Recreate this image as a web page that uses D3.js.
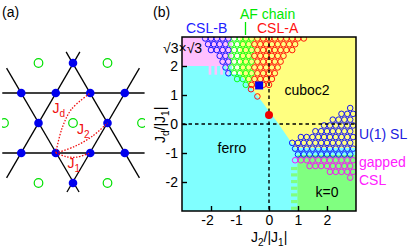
<!DOCTYPE html>
<html>
<head>
<meta charset="utf-8">
<script src="https://cdn.jsdelivr.net/npm/d3@7"></script>
<style>
  html, body { margin: 0; padding: 0; background: #fff; }
  svg { display: block; }
  text { font-family: "Liberation Sans", sans-serif; font-size: 14px; }
  .axis path { display: none; }
  .axis line { stroke: #000; stroke-width: 1.4; }
  .axis text { font-family: "Liberation Sans", sans-serif; font-size: 14px; fill: #000; }
</style>
</head>
<body>
<div id="chart"></div>
<script>
// panel (a): kagome lattice, lattice units
const blueSites = [[0, 2], [-3, 1], [-1, 1], [1, 1], [3, 1], [-2, 0], [2, 0], [-3, -1], [-1, -1], [1, -1], [3, -1], [0, -2]];
const greenSites = [[-2, 2], [2, 2], [-4, 0], [0, 0], [4, 0], [-2, -2], [2, -2]];
const bondLines = [
  [[-4.1, 1], [4.15, 1]],
  [[-4.1, -1], [4.15, -1]],
  [[-3.85, 1.83], [0.35, -2.3]],
  [[3.85, 1.83], [-0.35, -2.3]],
  [[-0.4, 2.37], [3.85, -1.83]],
  [[0.4, 2.37], [-3.85, -1.83]]
];
const j1Curve = [[-1, -1], [-0.4, -1.12], [0.2, -1.14], [1, -1]];
const j2Curve = [[-1, -1], [0.1, -0.78], [1.1, -0.45], [2, 0]];
const jdCurve = [[-1, -1], [-0.65, -0.2], [-0.1, 0.45], [1, 1]];

// panel (b): phase diagram regions in (J2, Jd)
const yellowRegion = [[-1, 3], [3, 3], [3, -0.83], [0.9, -0.83], [0.32, 0.02], [-0.37, 0.94], [-0.83, 1.52], [-1, 1.72]];
const pinkRegion = [[-3, 3], [-1.28, 3], [-1.28, 2], [-3, 2]];
const whiteRegion = [[-1.28, 3], [-1, 3], [-1, 1.72], [-1.28, 1.72]];
const greenRegion = [[0.98, -1.07], [3, -1.07], [3, -3], [0.98, -3]];
const pinkFingers = [-2.08, -1.88, -1.68, -1.48];
const greenFingers = [-1.48, -1.7, -1.93, -2.16, -2.39, -2.62, -2.85];

const cslBRows = [
  [2.95, [-2.2, -2.0, -1.8, -1.6, -1.4]],
  [2.75, [-2.1, -1.9, -1.7, -1.5]],
  [2.55, [-2.0, -1.8, -1.6, -1.4]],
  [2.35, [-1.7, -1.5]],
  [2.15, [-1.6, -1.4]],
  [1.95, [-1.5]],
  [1.75, [-1.4]]
];
const afChainRows = [
  [2.95, [-1.2, -1.0, -0.8, -0.6]],
  [2.75, [-1.3, -1.1, -0.9, -0.7]],
  [2.55, [-1.2, -1.0, -0.8, -0.6]],
  [2.35, [-1.3, -1.1, -0.9, -0.7]],
  [2.15, [-1.2, -1.0, -0.8, -0.6]],
  [1.95, [-1.3, -1.1, -0.9, -0.7]],
  [1.75, [-1.2, -1.0, -0.8, -0.6]],
  [1.55, [-1.1, -0.9, -0.7]],
  [1.35, [-0.8]]
];
const cslARows = [
  [2.95, [-0.4, -0.2, 0, 0.2, 0.4, 0.6, 0.8, 1.0, 1.2]],
  [2.75, [-0.5, -0.3, -0.1, 0.1, 0.3, 0.5, 0.7, 0.9]],
  [2.55, [-0.4, -0.2, 0, 0.2, 0.4, 0.6, 0.8]],
  [2.35, [-0.5, -0.3, -0.1, 0.1, 0.3, 0.5]],
  [2.15, [-0.4, -0.2, 0, 0.2, 0.4]],
  [1.95, [-0.5, -0.3, -0.1, 0.1, 0.3]],
  [1.75, [-0.4, -0.2, 0, 0.2]],
  [1.55, [-0.5, -0.3, -0.1, 0.1]],
  [1.35, [-0.6, -0.4, -0.2, 0]],
  [1.2, [-0.62]],
  [0.95, [-0.4]]
];
const u1Rows = [
  [0.55, [2.8]],
  [0.35, [2.5, 2.7, 2.9]],
  [0.15, [2.2, 2.4, 2.6, 2.8]],
  [-0.05, [1.9, 2.1, 2.3, 2.5, 2.7, 2.9]],
  [-0.25, [1.6, 1.8, 2.0, 2.2, 2.4, 2.6, 2.8]],
  [-0.45, [1.1, 1.3, 1.5, 1.7, 1.9, 2.1, 2.3, 2.5, 2.7, 2.9]],
  [-0.65, [0.8, 1.0, 1.2, 1.4, 1.6, 1.8, 2.0, 2.2, 2.4, 2.6, 2.8]],
  [-0.85, [0.9, 1.1, 1.3, 1.5, 1.7, 1.9, 2.1, 2.3, 2.5, 2.7, 2.9]],
  [-1.05, [1.0, 1.2, 1.4, 1.6, 1.8, 2.0, 2.2, 2.4, 2.6, 2.8]]
];
const gappedRows = [
  [-1.25, [0.9, 1.1, 1.3, 1.5, 1.7, 1.9, 2.1, 2.3, 2.5, 2.7, 2.9]],
  [-1.45, [1.4, 1.6, 1.8, 2.0, 2.2, 2.4, 2.6, 2.8]],
  [-1.65, [2.1, 2.3, 2.5, 2.7, 2.9]],
  [-1.85, [2.8]]
];
const ringSets = [
  {rows: cslBRows, color: '#0000ff'},
  {rows: afChainRows, color: '#00ff00'},
  {rows: cslARows, color: '#ff0000'},
  {rows: u1Rows, color: '#0000ff'},
  {rows: gappedRows, color: '#ff00ff'}
];
const redPoint = [0, 0.31];
const bluePoint = [-0.34, 1.33];
const xTicks = [-2, -1, 0, 1, 2];
const yTicks = [-2, -1, 0, 1, 2];

const svg = d3.select('#chart').append('svg').attr('width', 411).attr('height', 251);

// ---------- panel (a)
const ax = d3.scaleLinear().domain([-1, 1]).range([55.75, 90.25]);
const ay = d3.scaleLinear().domain([-1, 1]).range([153, 93]);
svg.append('clipPath').attr('id', 'lattice-clip').append('rect')
  .attr('x', 2).attr('y', 40).attr('width', 143).attr('height', 160);
const panelA = svg.append('g').attr('clip-path', 'url(#lattice-clip)');
const aLine = d3.line().x(d => ax(d[0])).y(d => ay(d[1]));

panelA.selectAll('.bond').data(bondLines).join('path')
  .attr('class', 'bond')
  .attr('d', aLine)
  .attr('fill', 'none').attr('stroke', '#000').attr('stroke-width', 1.3);

panelA.selectAll('.green-site').data(greenSites).join('circle')
  .attr('class', 'green-site')
  .attr('cx', d => ax(d[0])).attr('cy', d => ay(d[1]))
  .attr('r', 4.3).attr('fill', 'none').attr('stroke', '#00e000').attr('stroke-width', 1.2);

panelA.selectAll('.blue-site').data(blueSites).join('circle')
  .attr('class', 'blue-site')
  .attr('cx', d => ax(d[0])).attr('cy', d => ay(d[1]))
  .attr('r', 4.3).attr('fill', '#0000ee');

const curveLine = d3.line().curve(d3.curveCatmullRom).x(d => ax(d[0])).y(d => ay(d[1]));
panelA.selectAll('.coupling').data([j1Curve, j2Curve, jdCurve]).join('path')
  .attr('class', 'coupling')
  .attr('d', curveLine)
  .attr('fill', 'none').attr('stroke', '#f01010').attr('stroke-width', 1.3).attr('stroke-dasharray', '1.5,1.5');

function subLabel(parent, x, y, main, sub, color, tail) {
  const t = parent.append('text').attr('x', x).attr('y', y).attr('fill', color);
  t.append('tspan').text(main);
  t.append('tspan').attr('dy', 4).style('font-size', '10px').text(sub);
  if (tail) t.append('tspan').attr('dy', -4).text(tail);
  return t;
}
subLabel(panelA, 52.5, 113, 'J', 'd', '#f01010');
subLabel(panelA, 77, 134, 'J', '2', '#f01010');
subLabel(panelA, 67.5, 168, 'J', '1', '#f01010');

svg.append('text').attr('x', 2).attr('y', 17).text('(a)');
svg.append('text').attr('x', 153).attr('y', 17).text('(b)');

// ---------- panel (b)
const x = d3.scaleLinear().domain([-3, 3]).range([182, 356]);
const y = d3.scaleLinear().domain([-3, 3]).range([211, 37]);
const polyPath = pts => d3.line().x(d => x(d[0])).y(d => y(d[1]))(pts) + 'Z';

const plot = svg.append('g');
plot.append('rect')
  .attr('x', x(-3)).attr('y', y(3))
  .attr('width', x(3) - x(-3)).attr('height', y(-3) - y(3))
  .attr('fill', '#80ffff');

const regions = [
  {pts: yellowRegion, color: '#ffff80'},
  {pts: pinkRegion, color: '#ffc0ff'},
  {pts: whiteRegion, color: '#ffffee'},
  {pts: greenRegion, color: '#80ff80'}
];
plot.selectAll('.region').data(regions).join('path')
  .attr('class', 'region')
  .attr('d', d => polyPath(d.pts))
  .attr('fill', d => d.color);

plot.selectAll('.pink-finger').data(pinkFingers).join('rect')
  .attr('class', 'pink-finger')
  .attr('x', d => x(d)).attr('y', y(2))
  .attr('width', x(0.09) - x(0)).attr('height', y(1.7) - y(2))
  .attr('fill', '#ffc0ff');

plot.selectAll('.green-finger').data(greenFingers).join('rect')
  .attr('class', 'green-finger')
  .attr('x', x(0.76)).attr('y', d => y(d))
  .attr('width', x(0.98) - x(0.76)).attr('height', y(0) - y(0.11))
  .attr('fill', '#80ff80');

svg.append('clipPath').attr('id', 'plot-clip').append('rect')
  .attr('x', x(-3)).attr('y', y(3))
  .attr('width', x(3) - x(-3)).attr('height', y(-3) - y(3));

const ringGroup = plot.append('g').attr('clip-path', 'url(#plot-clip)');
ringSets.forEach(set => {
  const pts = set.rows.flatMap(([jd, j2s]) => j2s.map(j2 => [j2, jd]));
  ringGroup.append('g').selectAll('circle').data(pts).join('circle')
    .attr('cx', d => x(d[0])).attr('cy', d => y(d[1]))
    .attr('r', 2.8)
    .attr('fill', 'none').attr('stroke', set.color).attr('stroke-width', 0.9);
});

// dashed zero lines
plot.append('line').attr('x1', x(0)).attr('x2', x(0)).attr('y1', y(3)).attr('y2', y(-3))
  .attr('stroke', '#000').attr('stroke-width', 1.4).attr('stroke-dasharray', '3.5,3');
plot.append('line').attr('x1', x(-3)).attr('x2', x(3)).attr('y1', y(0)).attr('y2', y(0))
  .attr('stroke', '#000').attr('stroke-width', 1.4).attr('stroke-dasharray', '3.5,3');

plot.append('circle').attr('cx', x(redPoint[0])).attr('cy', y(redPoint[1])).attr('r', 4).attr('fill', '#ee0000');
plot.append('rect')
  .attr('x', x(bluePoint[0]) - 4).attr('y', y(bluePoint[1]) - 4)
  .attr('width', 8).attr('height', 8).attr('fill', '#0000ee');

const xAxis = d3.axisBottom(x).tickValues(xTicks).tickSizeInner(-5).tickPadding(4).tickFormat(d => String(d));
const yAxis = d3.axisLeft(y).tickValues(yTicks).tickSizeInner(-5).tickPadding(4).tickFormat(d => String(d));
const xAxisG = svg.append('g').attr('class', 'axis').attr('transform', `translate(0,${y(-3)})`).call(xAxis);
svg.append('g').attr('class', 'axis').attr('transform', `translate(${x(-3)},0)`).call(yAxis);
// negative labels sit a little left of their ticks, as in the original
xAxisG.selectAll('.tick text').attr('dx', d => d < 0 ? -4 : 0);

svg.append('rect')
  .attr('x', x(-3)).attr('y', y(3))
  .attr('width', x(3) - x(-3)).attr('height', y(-3) - y(3))
  .attr('fill', 'none').attr('stroke', '#000').attr('stroke-width', 1.5);

svg.append('text').attr('x', 232).attr('y', 153).attr('text-anchor', 'middle').text('ferro');
svg.append('text').attr('x', 307).attr('y', 95).attr('text-anchor', 'middle').text('cuboc2');
svg.append('text').attr('x', 327).attr('y', 197).attr('text-anchor', 'middle').text('k=0');
svg.append('text').attr('x', 163).attr('y', 53).text('√3×√3');

svg.append('text').attr('x', 186).attr('y', 33).attr('fill', '#2020ff').text('CSL-B');
svg.append('text').attr('x', 240).attr('y', 18.5).attr('fill', '#00e800').text('AF chain');
svg.append('text').attr('x', 257).attr('y', 33).attr('fill', '#ff1010').text('CSL-A');
svg.append('line').attr('x1', 245.5).attr('x2', 245.5).attr('y1', 22).attr('y2', 35)
  .attr('stroke', '#00e800').attr('stroke-width', 1.3);

svg.append('text').attr('x', 359).attr('y', 139).attr('fill', '#2020e0').text('U(1) SL');
svg.append('text').attr('x', 359).attr('y', 167).attr('fill', '#ff20ff').text('gapped');
svg.append('text').attr('x', 359).attr('y', 185).attr('fill', '#ff20ff').text('CSL');

// axis titles
const xTitle = subLabel(svg, 251, 242, 'J', '2', '#000');
xTitle.append('tspan').attr('dy', -4).text('/|J');
xTitle.append('tspan').attr('dy', 4).style('font-size', '10px').text('1');
xTitle.append('tspan').attr('dy', -4).text('|');

const yTitle = subLabel(svg, 0, 0, 'J', 'd', '#000');
yTitle.attr('transform', 'translate(165,143) rotate(-90)');
yTitle.append('tspan').attr('dy', -4).text('/|J');
yTitle.append('tspan').attr('dy', 4).style('font-size', '10px').text('1');
yTitle.append('tspan').attr('dy', -4).text('|');
</script>
</body>
</html>
